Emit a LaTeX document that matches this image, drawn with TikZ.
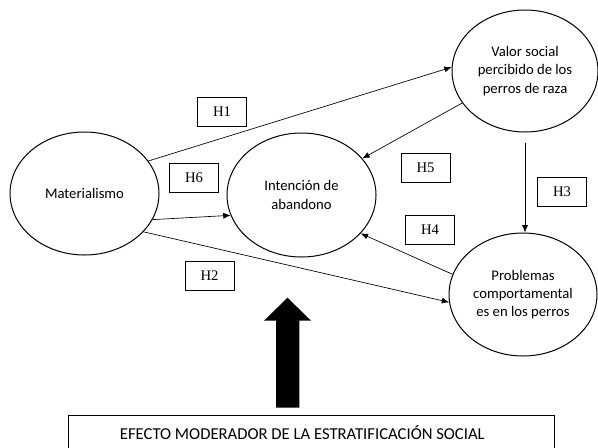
\documentclass[tikz,border=0pt]{standalone}
\usepackage{fontspec}
\setmainfont{Carlito}
\newfontfamily\hfont{Liberation Serif}
\usetikzlibrary{shapes.geometric,arrows.meta}

\begin{document}
\begin{tikzpicture}[x=0.75pt, y=-0.75pt,
    var/.style={ellipse, draw, line width=0.75pt, inner sep=0pt,
                minimum width=111.75pt, minimum height=92.25pt, align=center,
                font=\fontsize{11}{13.6}\selectfont},
    hyp/.style={draw, line width=0.75pt, inner sep=0pt,
                minimum width=36.75pt, minimum height=21.75pt,
                font=\hfont\fontsize{11}{13}\selectfont},
    rel/.style={line width=0.5pt, -{Latex[length=5.5pt,width=4.5pt]}}]
  \useasboundingbox (0,0) rectangle (598,447);

  \node[var] (mat) at (84.5,193.5) {Materialismo};
  \node[var, minimum height=93pt] (int) at (301.5,195) {Intención de\\abandono};
  \node[var, minimum width=109.5pt, minimum height=91.5pt] (val) at (525,71)
       {Valor social\\percibido de los\\perros de raza};
  \node[var, minimum width=111pt] (prob) at (523,294.5)
       {Problemas\\comportamental\\es en los perros};

  \node[hyp] (h1) at (222,112) {H1};
  \node[hyp] (h6) at (194,177.5) {H6};
  \node[hyp] (h2) at (209.5,276) {H2};
  \node[hyp] (h5) at (425.5,167.5) {H5};
  \node[hyp] (h3) at (562,192) {H3};
  \node[hyp] (h4) at (430,230) {H4};

  \draw[rel] (mat.27) -- (val.177);
  \draw[rel] (mat.-21) -- (int.196);
  \draw[rel] (mat.-33) -- (prob.186);
  \draw[rel] (val.207) -- (int.31);
  \draw[rel, shorten <=7.5pt] (val.south) -- (val.south |- prob.north);
  \draw[rel] (prob.164) -- (int.-33);

  % moderating effect
  \fill (276,407.7) -- (276,320.7) -- (264,320.7) -- (287.5,297.7)
        -- (311,320.7) -- (299.3,320.7) -- (299.3,407.7) -- cycle;
  \node[draw, line width=0.75pt, inner sep=0pt, minimum width=364.5pt,
        minimum height=27pt, font=\fontsize{12.5}{15}\selectfont] (mod) at (311,433)
       {EFECTO MODERADOR DE LA ESTRATIFICACIÓN SOCIAL\hspace*{13pt}};
\end{tikzpicture}
\end{document}
